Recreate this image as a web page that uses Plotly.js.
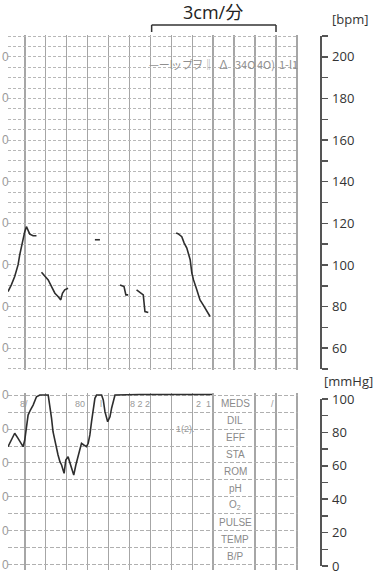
<!DOCTYPE html>
<html>
<head>
<meta charset="utf-8">
<script src="https://cdn.plot.ly/plotly-3.0.1.min.js"></script>
<style>html,body{margin:0;padding:0;background:#fff;}#chart{width:376px;height:574px;}</style>
</head>
<body>
<div id="chart"></div>
<script>
// ---- Data (time in seconds, 10 s per paper division) ----
// Fetal heart rate (bpm), broken trace segments
const fhrA_t = [-8.0, -6.4, -4.8, -4.0, -3.2, -2.4, -1.6, -0.8, 0.0, 0.8, 1.6, 2.4, 4.0, 5.6];
const fhrA_v = [87.2, 90.4, 94.4, 96.8, 100, 104.8, 108.8, 112.8, 116, 118.4, 116.8, 114.8, 114, 114];
const fhrB_t = [8.0, 9.6, 11.2, 12.8, 14.4, 15.9, 17.2, 18.0, 19.1, 20.7];
const fhrB_v = [96.5, 94.4, 92.8, 89.6, 86.4, 84.8, 83.2, 86.4, 88, 88.8];
const fhrC_t = [33.5, 35.9];
const fhrC_v = [112.1, 112.1];
const fhrD_t = [45.5, 47.4, 48.3, 49.4];
const fhrD_v = [90.4, 89.6, 85.6, 85.6];
const fhrE_t = [53.4, 55.0, 56.6, 57.4, 59.0];
const fhrE_v = [88, 87, 85.6, 77.6, 77.1];
const fhrF_t = [72.3, 73.2, 75.0, 76.1, 77.4, 79.0, 79.8, 80.6, 82.2, 83.7, 85.2, 86.1, 87.6, 88.5];
const fhrF_v = [115.3, 115, 113.6, 110.6, 108.1, 102.5, 96.1, 92.8, 88, 83.2, 80.8, 79.2, 76.5, 75.2];

// Uterine pressure (mmHg)
const uc_t = [-8.0, -6.4, -4.8, -3.2, -1.6, -0.8, 0.0, 0.8, 1.6, 2.7, 4.0, 5.6, 7.2, 11.2, 12.0, 12.8, 13.5, 14.4, 15.2, 15.9, 16.8, 17.6, 18.3, 18.8, 19.6, 20.7, 21.9, 22.8, 23.4, 24.4, 25.5, 26.3, 27.1, 28.2, 29.5, 30.3, 31.1, 31.9, 32.7, 33.5, 34.3, 36.7, 37.5, 38.3, 39.6, 40.7, 41.5, 42.3, 43.1, 55.0, 69.4, 89.5];
const uc_v = [69.6, 73.5, 77.5, 74.5, 71.6, 69.6, 73.5, 80.4, 88.2, 91.2, 94.1, 99, 100, 100, 94.1, 86.3, 78.4, 72.5, 67.6, 64.7, 60.8, 58.8, 55.9, 53.9, 61.8, 63.7, 58.8, 55.9, 52.9, 58.8, 64.7, 68.6, 71.6, 70.6, 69.6, 71.6, 76.5, 84.3, 92.2, 98.1, 100, 100, 97.1, 90.2, 84.3, 87.2, 92.4, 97.1, 100, 100.3, 100.2, 100.3];

// Axis scales
const bpmTicks = [50, 60, 70, 80, 90, 100, 110, 120, 130, 140, 150, 160, 170, 180, 190, 200, 210];
const bpmLabels = ['', '60', '', '80', '', '100', '', '120', '', '140', '', '160', '', '180', '', '200', ''];
const mmTicks = [0, 10, 20, 30, 40, 50, 60, 70, 80, 90, 100];
const mmLabels = ['0', '', '20', '', '40', '', '60', '', '80', '', '100'];
const paperTopLabels = [200, 180, 160, 140, 120, 100, 80, 60];
const paperBotLabels = [100, 80, 60, 40, 20, 0];
const tableRows = ['MEDS', 'DIL', 'EFF', 'STA', 'ROM', 'pH', 'O<sub>2</sub>', 'PULSE', 'TEMP', 'B/P'];
const tableRowVals = [95, 85, 75, 65, 55, 45, 35, 25, 15, 5];
const bottomGridX = [0, 10, 20, 30, 40, 50, 60, 70, 80, 90, 110, 120, 130];
const printedRow = ['—ーl', 'ップ', 'ヲ‖', '∆', '34O', '4O)', '1-l1'];
const printedRowX = [65, 75, 85, 95, 105, 115, 126];

// ---- Geometry helpers (pixel -> paper fraction) ----
const W = 376, H = 574;
const px = v => v / W;
const py = v => 1 - v / H;

const seg = (t, v, xa, ya) => ({x: t, y: v, xaxis: xa, yaxis: ya, type: 'scatter', mode: 'lines', line: {color: '#2e2e2e', width: 1.6}, hoverinfo: 'skip', showlegend: false});

const data = [
  seg(fhrA_t, fhrA_v, 'x', 'y'),
  seg(fhrB_t, fhrB_v, 'x', 'y'),
  seg(fhrC_t, fhrC_v, 'x', 'y'),
  seg(fhrD_t, fhrD_v, 'x', 'y'),
  seg(fhrE_t, fhrE_v, 'x', 'y'),
  seg(fhrF_t, fhrF_v, 'x', 'y'),
  seg(uc_t, uc_v, 'x3', 'y2'),
  // invisible carriers for the right-hand scales
  {x: [0.5], y: [100], xaxis: 'x2', yaxis: 'y3', mode: 'markers', marker: {opacity: 0}, hoverinfo: 'skip', showlegend: false, type: 'scatter'},
  {x: [0.5], y: [50], xaxis: 'x2', yaxis: 'y4', mode: 'markers', marker: {opacity: 0}, hoverinfo: 'skip', showlegend: false, type: 'scatter'}
];

const xdom = [px(8), px(298)];
const xr = [-8, 130.5];
const scaleFont = {family: 'Open Sans, Noto Sans, sans-serif', size: 13, color: '#333'};
const edgeFont = {family: 'Liberation Sans, sans-serif', size: 12, color: '#9a9a9a'};

const annotations = [];
// last digit of the paper's own scale labels, visible at the scan's left edge
paperTopLabels.forEach(v => annotations.push({xref: 'paper', yref: 'y', x: 0, y: v, text: String(v).slice(-1), xanchor: 'left', yanchor: 'middle', showarrow: false, font: edgeFont}));
paperBotLabels.forEach(v => annotations.push({xref: 'paper', yref: 'y2', x: 0, y: v, text: String(v).slice(-1), xanchor: 'left', yanchor: 'middle', showarrow: false, font: edgeFont}));
tableRows.forEach((r, i) => annotations.push({xref: 'paper', yref: 'y2', x: px(235), y: tableRowVals[i], text: r, xanchor: 'center', yanchor: 'middle', showarrow: false, font: {family: 'Liberation Sans Narrow, Liberation Sans, sans-serif', size: 10, color: '#8a8a8a'}}));
// faint handwritten / printed marks on the paper
const marks = [
  {x: 24, y: 95, t: '8/'}, {x: 80, y: 95, t: '80'}, {x: 101, y: 95, t: 'l'},
  {x: 140, y: 95, t: '8 2 2'}, {x: 203, y: 95, t: '2  1'}, {x: 272, y: 95, t: '/'},
  {x: 185, y: 80, t: '1(2).'}
];
marks.forEach(m => annotations.push({xref: 'paper', yref: 'y2', x: px(m.x), y: m.y, text: m.t, xanchor: 'center', yanchor: 'middle', showarrow: false, font: {family: 'Liberation Sans, sans-serif', size: 9, color: '#999'}}));
printedRow.forEach((t, i) => annotations.push({xref: 'x', yref: 'y', x: printedRowX[i], y: 196.5, text: t, xanchor: 'center', yanchor: 'middle', showarrow: false, font: {family: 'Noto Sans CJK JP, sans-serif', size: 11, color: '#8f8f8f'}}));
// scale units and speed
annotations.push({xref: 'paper', yref: 'paper', x: px(350), y: py(19), text: '[bpm]', xanchor: 'center', yanchor: 'middle', showarrow: false, font: scaleFont});
annotations.push({xref: 'paper', yref: 'paper', x: px(348), y: py(381), text: '[mmHg]', xanchor: 'center', yanchor: 'middle', showarrow: false, font: scaleFont});
annotations.push({xref: 'paper', yref: 'paper', x: px(213), y: py(12), text: '3cm/分', xanchor: 'center', yanchor: 'middle', showarrow: false, font: {family: 'Open Sans, Noto Sans CJK JP, sans-serif', size: 18, color: '#222'}});

const bracketLine = {color: '#333', width: 1.5};
const shapes = [
  {type: 'line', xref: 'x', yref: 'paper', x0: 60.6, x1: 120, y0: py(25), y1: py(25), line: bracketLine},
  {type: 'line', xref: 'x', yref: 'paper', x0: 60.6, x1: 60.6, y0: py(25), y1: py(32), line: bracketLine},
  {type: 'line', xref: 'x', yref: 'paper', x0: 120, x1: 120, y0: py(25), y1: py(32), line: bracketLine}
];

const layout = {
  width: W, height: H,
  margin: {l: 0, r: 0, t: 0, b: 0, pad: 0},
  paper_bgcolor: '#fff', plot_bgcolor: '#fff',
  showlegend: false,
  xaxis: {domain: xdom, range: xr, anchor: 'y', tick0: 0, dtick: 10, showgrid: true, gridcolor: '#a6a6a6', gridwidth: 1.5, showticklabels: false, ticks: '', zeroline: false, showline: false, fixedrange: true},
  yaxis: {domain: [py(370), py(35)], range: [49.5, 210.5], anchor: 'x', tick0: 0, dtick: 5, showgrid: true, gridcolor: '#b8b8b8', gridwidth: 1, griddash: '3px,2px', showticklabels: false, ticks: '', zeroline: false, showline: false, fixedrange: true},
  xaxis3: {domain: xdom, range: xr, anchor: 'y2', tickmode: 'array', tickvals: bottomGridX, showgrid: true, gridcolor: '#a6a6a6', gridwidth: 1.5, showticklabels: false, ticks: '', zeroline: false, showline: false, fixedrange: true},
  yaxis2: {domain: [py(570), py(393)], range: [-3, 101.2], anchor: 'x3', tick0: 0, dtick: 10, showgrid: true, gridcolor: '#b0b0b0', gridwidth: 1, griddash: '4px,2px', showticklabels: false, ticks: '', zeroline: false, showline: false, fixedrange: true},
  xaxis2: {domain: [0.9, 1], range: [0, 1], anchor: 'y3', visible: false, fixedrange: true},
  yaxis3: {domain: [py(369), py(36)], range: [50, 210], anchor: 'free', position: px(320), side: 'right',
    tickmode: 'array', tickvals: bpmTicks, ticktext: bpmLabels, ticks: 'outside', ticklen: 6, tickwidth: 1.5, tickcolor: '#555',
    showline: true, linecolor: '#555', linewidth: 1.5, showgrid: false, zeroline: false, tickfont: scaleFont, ticklabelstandoff: 2, ticklabeloverflow: 'allow', fixedrange: true},
  yaxis4: {domain: [py(566), py(399)], range: [0, 100], anchor: 'free', position: px(320), side: 'right',
    tickmode: 'array', tickvals: mmTicks, ticktext: mmLabels, ticks: 'outside', ticklen: 6, tickwidth: 1.5, tickcolor: '#555',
    showline: true, linecolor: '#555', linewidth: 1.5, showgrid: false, zeroline: false, tickfont: scaleFont, ticklabelstandoff: 2, ticklabeloverflow: 'allow', fixedrange: true},
  annotations: annotations,
  shapes: shapes
};

Plotly.newPlot('chart', data, layout, {displayModeBar: false, staticPlot: true});
</script>
</body>
</html>
